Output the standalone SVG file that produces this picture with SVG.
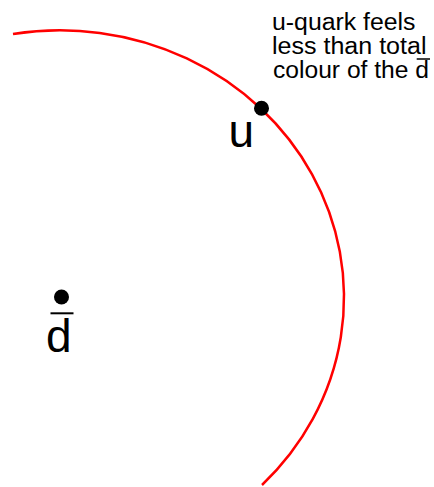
<svg xmlns="http://www.w3.org/2000/svg" width="434" height="487" viewBox="0 0 434 487">
<style>
.lbl{font-family:"Liberation Sans",Arial,sans-serif;fill:#000}
.big{font-size:46px}
.note{font-size:23.5px}
.bar{stroke:#000;stroke-width:2}
.dot{fill:#000}
</style>
<rect width="434" height="487" fill="#fff"/>
<g id="connectors">
<path id="colour-arc" d="M13,34 A284,267 0 0 1 262,485" fill="none" stroke="#ff0000" stroke-width="2.5"/>
</g>
<g id="u-quark">
<circle class="dot" cx="261.5" cy="108.3" r="7.5"/>
<text class="lbl big" x="228.5" y="146.5">u</text>
</g>
<g id="d-antiquark">
<circle class="dot" cx="61.5" cy="297" r="7.5"/>
<line class="bar" x1="50.5" y1="313.3" x2="73.5" y2="313.3"/>
<text class="lbl big" x="46" y="351.5">d</text>
</g>
<g id="note">
<text class="lbl note" x="272" y="30" textLength="143.5" lengthAdjust="spacingAndGlyphs">u-quark feels</text>
<text class="lbl note" x="272" y="54" textLength="154.5" lengthAdjust="spacingAndGlyphs">less than total</text>
<text class="lbl note" x="273" y="78.3" textLength="156" lengthAdjust="spacingAndGlyphs">colour of the d</text>
<line x1="416.7" y1="59" x2="430" y2="59" stroke="#000" stroke-width="1.5"/>
</g>
</svg>
